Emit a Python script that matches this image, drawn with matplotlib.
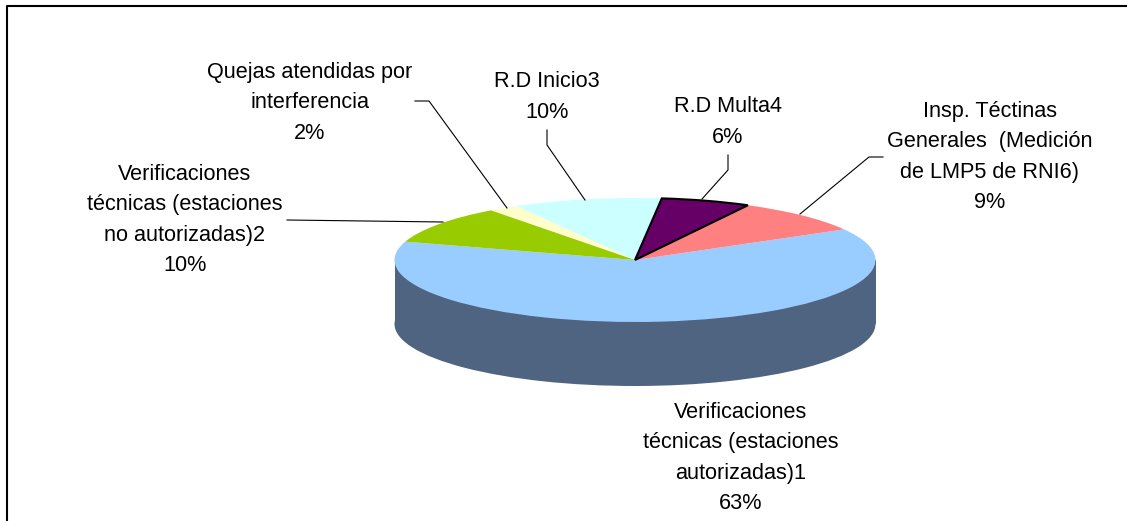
import matplotlib
matplotlib.use('Agg')
import matplotlib.pyplot as plt
from matplotlib.patches import Rectangle

plt.rcParams['font.family'] = ['Liberation Sans', 'DejaVu Sans']

# datos del grafico
categorias = ['Verificaciones técnicas (estaciones autorizadas)1',
              'Insp. Téctinas Generales (Medición de LMP5 de RNI6)',
              'R.D Multa4', 'R.D Inicio3',
              'Quejas atendidas por interferencia',
              'Verificaciones técnicas (estaciones no autorizadas)2']
valores = [63, 9, 6, 10, 2, 10]
colores = ['#99ccff', '#ff8080', '#660066', '#ccffff', '#ffffcc', '#99cc00']
color_lado = '#4f6480'

etiquetas = ['Verificaciones\ntécnicas (estaciones\nautorizadas)1\n63%',
             'Insp. Téctinas\nGenerales  (Medición\nde LMP5 de RNI6)\n9%',
             'R.D Multa4\n6%', 'R.D Inicio3\n10%',
             'Quejas atendidas por\ninterferencia\n2%',
             'Verificaciones\ntécnicas (estaciones\nno autorizadas)2\n10%']
pos_etiquetas = [(741, 458), (990, 157), (728, 122), (547, 97), (310, 103), (185, 220)]

lineas_x = [[883, 869, 800], [728, 728, 702], [547, 547, 585], [415, 429, 507], [287, 443]]
lineas_y = [[157, 157, 214], [155, 170, 199], [130, 145, 200], [101, 101, 208], [220, 222]]

W, H = 1127, 521
cx, cy, rx, ry, alto = 635, 260, 240.5, 62, 64

fig = plt.figure(figsize=(W / 100, H / 100), dpi=100)

# pie aplastado para simular el 3D
ax = fig.add_axes([0, 0, 1, 1])
ax.add_patch(Rectangle((-1, -alto / ry), 2, alto / ry, color=color_lado, lw=0))
ax.pie([1], colors=[color_lado], center=(0, -alto / ry), radius=1,
       wedgeprops={'linewidth': 0})
cuñas, _ = ax.pie(valores, colors=colores, startangle=162.8, radius=1,
                  wedgeprops={'linewidth': 0})
cuñas[2].set_edgecolor('black')
cuñas[2].set_linewidth(1.5)
cuñas[2].set_zorder(3)
ax.set_aspect('auto')
ax.set_xlim(-cx / rx, (W - cx) / rx)
ax.set_ylim((cy - H) / ry, cy / ry)
ax.axis('off')

# capa en pixeles para marco, lineas y textos
capa = fig.add_axes([0, 0, 1, 1])
capa.set_xlim(0, W)
capa.set_ylim(H, 0)
capa.axis('off')
capa.patch.set_alpha(0)

# el marco solo tiene lado izquierdo y superior
capa.plot([7, 7, W], [H, 5.5, 5.5], color='black', lw=1.5)

for xs, ys in zip(lineas_x, lineas_y):
    capa.plot(xs, ys, color='black', lw=0.8)

for texto, (x, y) in zip(etiquetas, pos_etiquetas):
    capa.text(x, y, texto, ha='center', va='center', fontsize=15.6,
              linespacing=1.6, color='black')

fig.savefig('out.png', dpi=100)
